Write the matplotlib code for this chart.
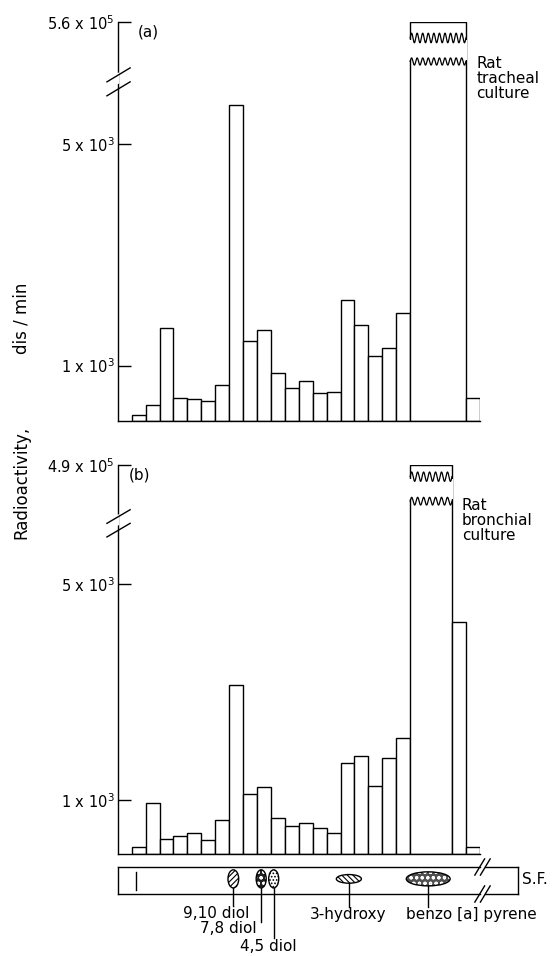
import numpy as np
import matplotlib
matplotlib.use("Agg")
import matplotlib.pyplot as plt
from matplotlib.patches import Ellipse, Polygon
from matplotlib.transforms import blended_transform_factory

plt.rcParams['font.family'] = ['DejaVu Sans']
plt.rcParams['mathtext.default'] = 'regular'
plt.rcParams['hatch.linewidth'] = 0.8

# fraction number along the TLC plate (1 fraction = 1 slot)
fractions = list(range(1, 21))

# (a) rat tracheal culture, dis/min per fraction
tracheal = [110, 295, 1680, 410, 395, 365, 645, 5700, 1450, 1635,
            875, 600, 727, 500, 523, 2190, 1740, 1175, 1318, 1955]
tracheal_bap = 5.6e5      # pooled fractions 21-24
tracheal_last = 420       # fraction 25

# (b) rat bronchial culture
bronchial = [135, 935, 277, 338, 393, 258, 627, 3137, 1110, 1242,
             670, 517, 566, 474, 382, 1684, 1814, 1260, 1784, 2146]
bronchial_bap = 4.9e5     # pooled fractions 21-23
bronchial_24 = 4300
bronchial_last = 130

# marker spots on the plate (position in fraction units)
spot_names = ['9,10 diol', '7,8 diol', '4,5 diol', '3-hydroxy', 'benzo [a] pyrene']
spot_pos = [8.3, 10.3, 11.2, 16.6, 22.3]
origin_pos = 1.3

W, H = 555, 956
fig = plt.figure(figsize=(W / 100, H / 100), dpi=100)


def px_box(x0, y0, x1, y1):
    # pixel box (top-left origin) -> figure fraction rect
    return [x0 / W, 1 - y1 / H, (x1 - x0) / W, (y1 - y0) / H]


def broken_scale(top, brk=6000.0, top_eq=7200.0):
    c = (top_eq - brk) / (top - brk)

    def fwd(v):
        v = np.asarray(v, dtype=float)
        return np.where(v <= brk, v, brk + (v - brk) * c)

    def inv(u):
        u = np.asarray(u, dtype=float)
        return np.where(u <= brk, u, brk + (u - brk) / c)
    return fwd, inv


def wavy(ax, x0, x1, yc, amp, ncyc):
    tr = blended_transform_factory(ax.transData, ax.transAxes)
    xs = np.linspace(x0, x1, 300)
    ys = yc + amp * np.sin(np.linspace(0, 2 * np.pi * ncyc, 300))
    ax.plot(xs, ys, color='black', lw=0.9, transform=tr, clip_on=False, zorder=5)
    return xs, ys


def break_bar(ax, x0, x1, y_lo, y_hi, amp_lo, amp_hi, ncyc):
    # white gap between two wavy lines across the pooled bar
    tr = blended_transform_factory(ax.transData, ax.transAxes)
    wavy(ax, x0, x1, y_lo, amp_lo, ncyc)
    wavy(ax, x0, x1, y_hi, amp_hi, ncyc)
    poly = Polygon([[x0 - 0.1, y_lo + amp_lo * 0.5], [x1 + 0.1, y_lo + amp_lo * 0.5],
                    [x1 + 0.1, y_hi - amp_hi * 0.5], [x0 - 0.1, y_hi - amp_hi * 0.5]],
                   closed=True, facecolor='white', edgecolor='none',
                   transform=tr, clip_on=False, zorder=4)
    ax.add_patch(poly)


def axis_break(ax):
    for dy in (0.0, -0.035):
        ax.plot([-0.03, 0.034], [0.85 + dy, 0.885 + dy], color='black', lw=1.0,
                transform=ax.transAxes, clip_on=False, zorder=6)
    gap = Polygon([[-0.004, 0.842], [0.004, 0.846], [0.004, 0.874], [-0.004, 0.870]],
                  closed=True, facecolor='white', edgecolor='none',
                  transform=ax.transAxes, clip_on=False, zorder=5)
    ax.add_patch(gap)


def panel(box, vals, big_left, big_width, big_val, extra_left, extra_vals,
          top_label, letter, letter_x, name, name_x, waves):
    ax = fig.add_axes(box)
    fwd, inv = broken_scale(big_val)
    ax.set_yscale('function', functions=(fwd, inv))
    kw = dict(width=1, align='edge', color='white', edgecolor='black', linewidth=1.0)
    ax.bar(fractions, vals, **kw)
    ax.bar(big_left, big_val, **{**kw, 'width': big_width})
    ax.bar(extra_left, extra_vals, **kw)
    ax.set_xlim(0, 26)
    ax.set_ylim(0, big_val)
    ax.set_yticks([1000, 5000, big_val])
    ax.set_yticklabels(['1 x 10$^3$', '5 x 10$^3$', top_label], fontsize=10.5)
    ax.minorticks_off()
    ax.tick_params(axis='y', direction='in', length=9.5, width=1.0, pad=2)
    ax.set_xticks([])
    for s in ('top', 'right'):
        ax.spines[s].set_visible(False)
    for s in ('left', 'bottom'):
        ax.spines[s].set_linewidth(1.0)
    axis_break(ax)
    y_lo, y_hi, a_lo, a_hi, ncyc = waves
    break_bar(ax, big_left, big_left + big_width, y_lo, y_hi, a_lo, a_hi, ncyc)
    ax.text(letter_x, 0.975, letter, transform=ax.transAxes, fontsize=11, va='center', ha='left')
    ax.text(name_x, 0.915, name, transform=ax.transAxes, fontsize=11,
            va='top', ha='left', linespacing=1.0)
    return ax


ax_a = panel(px_box(117.8, 22, 479.8, 421), tracheal, 21, 4, tracheal_bap,
             [25], [tracheal_last], '5.6 x 10$^5$', '(a)', 0.055,
             'Rat\ntracheal\nculture', 0.99, (0.901, 0.960, 0.009, 0.012, 10))

ax_b = panel(px_box(117.8, 465, 479.8, 854), bronchial, 21, 3, bronchial_bap,
             [24, 25], [bronchial_24, bronchial_last], '4.9 x 10$^5$', '(b)', 0.03,
             'Rat\nbronchial\nculture', 0.95, (0.907, 0.970, 0.010, 0.012, 7))

fig.text(21 / W, 1 - 318 / H, 'dis / min', rotation=90, fontsize=12, ha='center', va='center')
fig.text(21 / W, 1 - 482 / H, 'Radioactivity,', rotation=90, fontsize=12, ha='center', va='center')

# TLC strip below the histogram
ax_s = fig.add_axes(px_box(117.8, 867, 518, 894))
xr = (518 - 117.8) / 13.92
ax_s.set_xlim(0, xr)
ax_s.set_ylim(0, 1)
ax_s.axis('off')
g0, g1 = 26.0, 26.4
line_kw = dict(color='black', lw=1.0, clip_on=False)
ax_s.plot([0, g0], [1, 1], **line_kw)
ax_s.plot([g1, xr], [1, 1], **line_kw)
ax_s.plot([0, g0], [0, 0], **line_kw)
ax_s.plot([g1, xr], [0, 0], **line_kw)
ax_s.plot([0, 0], [0, 1], **line_kw)
ax_s.plot([xr, xr], [0, 1], **line_kw)
for gx in (g0, g1):
    for yy in (0, 1):
        ax_s.plot([gx - 0.35, gx + 0.35], [yy - 0.3, yy + 0.3], **line_kw)
ax_s.plot([origin_pos, origin_pos], [0.15, 0.8], **line_kw)

spot_size = [(0.77, 0.67), (0.72, 0.67), (0.72, 0.67), (1.8, 0.32), (3.15, 0.52)]
spot_face = ['white', '#202020', 'white', 'white', '#505050']
spot_hatch = ['//////', 'ooo', '.....', '\\\\\\\\\\\\', 'ooo']
spot_hcol = ['black', 'white', 'black', 'black', 'white']
yc = 0.56
for x, (w, h), fc, ht, hc in zip(spot_pos, spot_size, spot_face, spot_hatch, spot_hcol):
    ax_s.add_patch(Ellipse((x, yc), w, h, facecolor=fc, edgecolor=hc, hatch=ht, lw=0))
    ax_s.add_patch(Ellipse((x, yc), w, h, facecolor='none', edgecolor='black', lw=1.0))

# leader lines and labels
lead_end = [-0.41, -1.04, -1.63, -0.48, -0.48]
for x, (w, h), y1 in zip(spot_pos, spot_size, lead_end):
    ax_s.plot([x, x], [yc - h / 2, y1], **line_kw)

label_xy = [(216, 913), (228, 928.5), (268.5, 946.5), (348.5, 915), (471, 915)]
for name, (lx, ly) in zip(spot_names, label_xy):
    fig.text(lx / W, 1 - ly / H, name, fontsize=11, ha='center', va='center')
fig.text(522 / W, 1 - 880 / H, 'S.F.', fontsize=11, ha='left', va='center')

fig.savefig('out.png', dpi=100)
